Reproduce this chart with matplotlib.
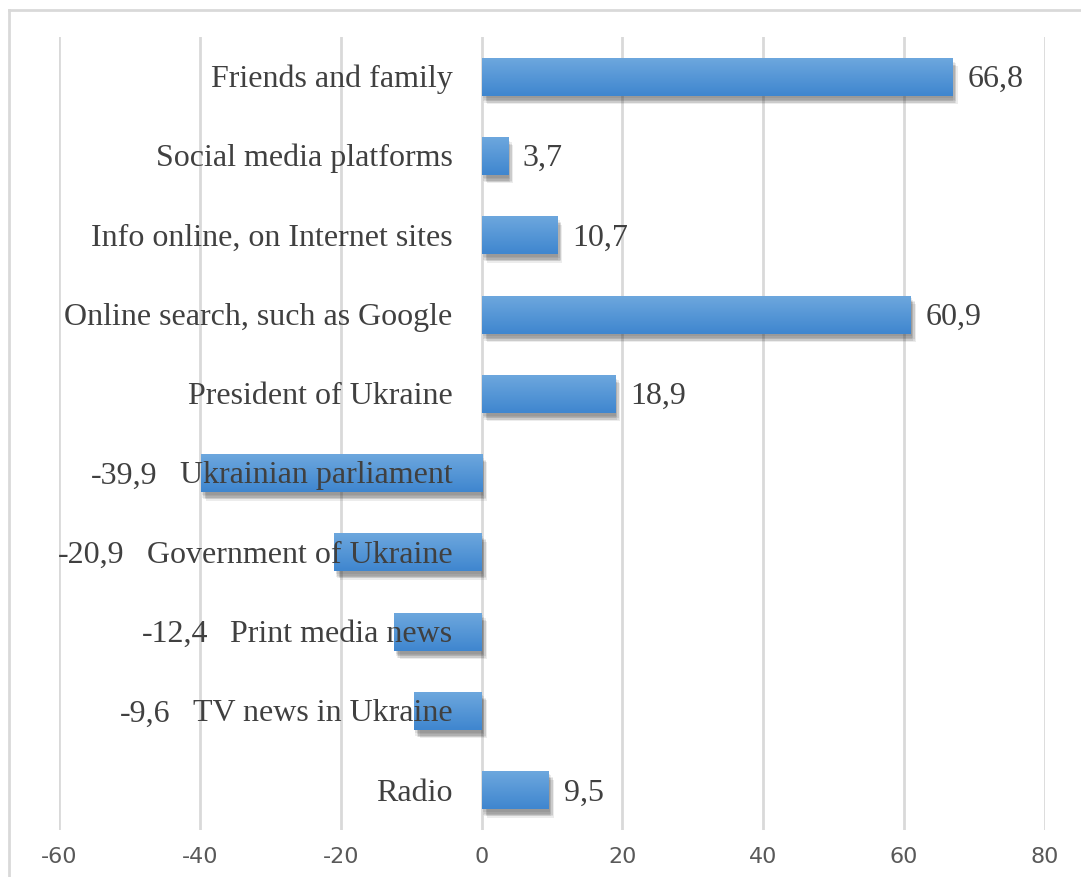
import matplotlib
matplotlib.use('Agg')
import matplotlib.pyplot as plt
import matplotlib.patheffects as pe
from matplotlib.colors import LinearSegmentedColormap
from matplotlib.lines import Line2D
import numpy as np

categories = [
    'Friends and family',
    'Social media platforms',
    'Info online, on Internet sites',
    'Online search, such as Google',
    'President of Ukraine',
    'Ukrainian parliament',
    'Government of Ukraine',
    'Print media news',
    'TV news in Ukraine',
    'Radio',
]
values = [66.8, 3.7, 10.7, 60.9, 18.9, -39.9, -20.9, -12.4, -9.6, 9.5]
x_ticks = [-60, -40, -20, 0, 20, 40, 60, 80]

W, H = 1081, 877
fig = plt.figure(figsize=(W / 100, H / 100), dpi=100)
ax = fig.add_axes([59 / W, 1 - 830 / H, (1045 - 59) / W, (830 - 37) / H])

serif = ['Liberation Serif', 'DejaVu Serif']
text_color = '#404040'
fs = 23
grad = LinearSegmentedColormap.from_list('bar', ['#6ea8de', '#3f86cf'])

# soft shadow, several faint layers
shadow = [pe.SimplePatchShadow(offset=(dx, -dy), shadow_rgbFace='#303030', alpha=0.09)
          for dx, dy in [(1, 2), (2, 3), (3, 4), (3, 5), (4, 6), (2, 5), (1, 4)]]

y = np.arange(len(categories))
bars = ax.barh(y, values, height=0.48, color='#5296d8', zorder=3,
               path_effects=shadow + [pe.Normal()])

# vertical gradient inside each bar (light on top)
g = np.linspace(0, 1, 64).reshape(-1, 1)
for b in bars:
    x0, y0, w, h = b.get_x(), b.get_y(), b.get_width(), b.get_height()
    im = ax.imshow(g, cmap=grad, aspect='auto', zorder=4,
                   extent=[min(x0, x0 + w), max(x0, x0 + w), y0 + h, y0])
    im.set_clip_path(b)

ax.set_xlim(-60, 80)
ax.set_ylim(len(categories) - 0.5, -0.5)
ax.set_xticks(x_ticks)
ax.set_xticklabels([str(t) for t in x_ticks])
ax.set_yticks([])
ax.tick_params(axis='x', length=0, pad=12, labelsize=16, labelcolor='#595959')
ax.grid(axis='x', color='#d9d9d9', linewidth=2, zorder=0)
for s in ax.spines.values():
    s.set_visible(False)

# category labels next to the zero line
cat_texts = []
for yi, c in zip(y, categories):
    t = ax.annotate(c, xy=(0, yi), xytext=(-21, -2), textcoords='offset points',
                    ha='right', va='center', fontsize=fs, family=serif,
                    color=text_color, zorder=6)
    cat_texts.append(t)

fig.canvas.draw()
renderer = fig.canvas.get_renderer()

# value labels: outside bar end for positives, left of category text for negatives
for yi, v, t in zip(y, values, cat_texts):
    label = f'{v:.1f}'.replace('.', ',')
    if v >= 0:
        ax.annotate(label, xy=(v, yi), xytext=(11, -2), textcoords='offset points',
                    ha='left', va='center', fontsize=fs, family=serif,
                    color=text_color, zorder=6)
    else:
        bb = t.get_window_extent(renderer)
        _, yd = ax.transData.transform((0, yi))
        ax.annotate(label, xy=(bb.x0 - 22, yd - 3), xycoords='figure pixels',
                    ha='right', va='center', fontsize=fs, family=serif,
                    color=text_color, zorder=6)

# outer chart frame
fig.add_artist(Line2D([9 / W, 1], [1 - 10 / H, 1 - 10 / H], color='#d9d9d9', lw=2, transform=fig.transFigure))
fig.add_artist(Line2D([9 / W, 9 / W], [0, 1 - 10 / H], color='#d9d9d9', lw=2, transform=fig.transFigure))

fig.savefig('out.png', dpi=100)
